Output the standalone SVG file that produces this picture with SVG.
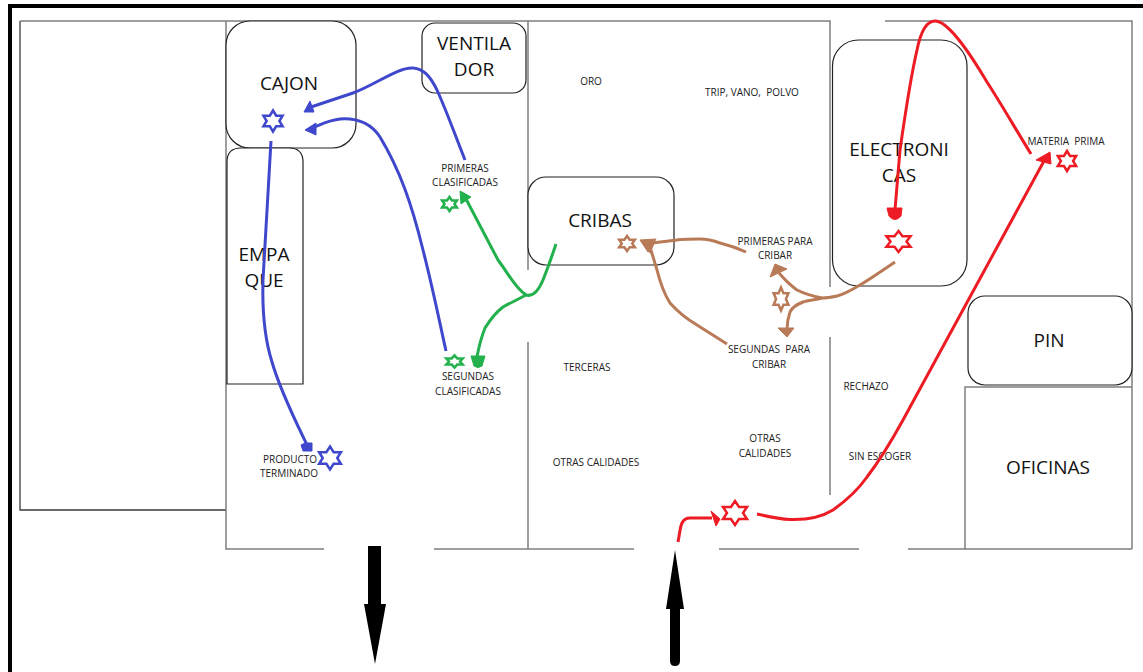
<svg xmlns="http://www.w3.org/2000/svg" width="1143" height="672" viewBox="0 0 1143 672">
<style>
text{white-space:pre}
.wall{fill:none;stroke:#7f7f7f;stroke-width:1.5}
.dark{fill:none;stroke:#3a3a3a;stroke-width:1.3}
.box{fill:#fff;stroke:#222;stroke-width:1.2}
.lg{font:19px "Open Sans","Noto Sans","Liberation Sans",sans-serif;fill:#111;text-anchor:middle}
.sm{font:10px "Open Sans","Noto Sans","Liberation Sans",sans-serif;fill:#222;text-anchor:middle}
.fl{fill:none;stroke-width:3;stroke-linecap:butt}
.st{fill:#fff;stroke-width:2.5}
.st polygon{vector-effect:non-scaling-stroke}
.blue{stroke:#3f48cc}.bluef{fill:#3f48cc;stroke:#3f48cc;stroke-width:1;stroke-linejoin:round}
.green{stroke:#22b14c}.greenf{fill:#22b14c;stroke:#22b14c;stroke-width:1;stroke-linejoin:round}
.brown{stroke:#b97a57}.brownf{fill:#b97a57;stroke:#b97a57;stroke-width:1;stroke-linejoin:round}
.red{stroke:#ed1c24}.redf{fill:#ed1c24;stroke:#ed1c24;stroke-width:1;stroke-linejoin:round}
</style>
<rect x="0" y="0" width="1143" height="672" fill="#fff"/>
<g id="frame" fill="#000"><rect x="8" y="4" width="1135" height="4"/><rect x="8" y="4" width="4" height="668"/></g>
<g id="walls">
<path class="dark" d="M226 510H20V21"/>
<path class="wall" d="M20 21H830V287M830 337V495M885 21H1132V549"/>
<path class="wall" d="M226 21V549H324M434 549H634M719 549H859M908 549H1132"/>
<path class="wall" d="M528 21V270M528 342V549"/>
<path class="wall" d="M965 549V387H1132"/>
</g>
<g id="cajon"><rect class="box" x="226" y="21" width="130" height="127" rx="24"/><text class="lg" x="289" y="90">CAJON</text></g>
<g id="ventilador"><rect class="box" x="422" y="23" width="104" height="70" rx="13"/><text class="lg" x="474" y="50">VENTILA</text><text class="lg" x="474" y="76">DOR</text></g>
<g id="empaque"><path class="box" d="M227 384V162Q227 148 241 148H289Q303 148 303 162V384Z"/><text class="lg" x="264" y="261">EMPA</text><text class="lg" x="264" y="287">QUE</text></g>
<g id="cribas"><rect class="box" x="528" y="177" width="146" height="88" rx="18"/><text class="lg" x="600" y="227">CRIBAS</text></g>
<g id="electronicas"><rect class="box" x="832.500" y="40" width="134.500" height="246" rx="26"/><text class="lg" x="899" y="156">ELECTRONI</text><text class="lg" x="899" y="182">CAS</text></g>
<g id="pin"><rect class="box" x="968" y="296" width="164" height="89" rx="17"/><text class="lg" x="1049" y="347">PIN</text></g>
<g id="oficinas"><text class="lg" x="1048" y="474">OFICINAS</text></g>
<g id="labels">
<text class="sm" x="591" y="85">ORO</text>
<text class="sm" x="752" y="96">TRIP, VANO,  POLVO</text>
<text class="sm" x="465" y="172">PRIMERAS</text><text class="sm" x="465" y="186">CLASIFICADAS</text>
<text class="sm" x="468" y="380">SEGUNDAS</text><text class="sm" x="468" y="395">CLASIFICADAS</text>
<text class="sm" x="290" y="463">PRODUCTO</text><text class="sm" x="289" y="477">TERMINADO</text>
<text class="sm" x="587" y="371">TERCERAS</text>
<text class="sm" x="596" y="466">OTRAS CALIDADES</text>
<text class="sm" x="775" y="245">PRIMERAS PARA</text><text class="sm" x="775" y="259">CRIBAR</text>
<text class="sm" x="769" y="353">SEGUNDAS  PARA</text><text class="sm" x="769" y="368">CRIBAR</text>
<text class="sm" x="765" y="442">OTRAS</text><text class="sm" x="765" y="457">CALIDADES</text>
<text class="sm" x="866" y="390">RECHAZO</text>
<text class="sm" x="880" y="460">SIN ESCOGER</text>
<text class="sm" x="1066" y="145">MATERIA  PRIMA</text>
</g>
<g id="connectors">
<path class="fl blue" d="M465 160C455 135 447 112 437 90C430 76 424 69 413 68C398 67 375 85 353 93L311 107"/><path class="bluef" d="M304 112L310 101L314 112Z"/>
<path class="fl blue" d="M446 351C437 310 432 285 423 250C412 205 400 170 380 137C370 122 355 118 340 119C330 120 322 124 314 127"/><path class="bluef" d="M305 130L316 123L316 135Z"/>
<path class="fl blue" d="M271 141L263 280C262 315 265 340 272 362C280 390 295 420 307 445"/><path class="bluef" d="M301 445L305 443H312V451H303Z"/>
<path class="fl green" d="M526 295C515 288 508 273 498 260L466 199"/><path class="greenf" d="M460 191L471 197L461 204Z"/>
<path class="fl green" d="M556 244C550 262 547 270 543 280C538 292 533 297 526 295C515 301 510 303 503 307C495 313 490 320 485 328C481 338 479 346 477 357"/><path class="greenf" d="M471 356H485L482 366Q478 369 474 366Z"/>
<path class="fl brown" d="M746 252C735 247 728 245 720 243C712 240 705 239 700 239C690 239 680 239 677 240L652 243"/><path class="brownf" d="M640 240L656 239L648 252Z"/>
<path class="fl brown" d="M727 344L697 325C685 318 678 312 670 303C663 292 660 282 657 270L650 247"/><path class="brownf" d="M641 241L655 241L650 253Z"/>
<path class="fl brown" d="M895 262C880 272 870 279 860 285C850 291 845 294 837 296C828 298 825 298 822 298C812 296 805 294 797 290C790 285 785 280 779 273"/><path class="brownf" d="M770 277L775 264L787 269Z"/>
<path class="fl brown" d="M822 298C815 300 808 300 803 302C795 305 792 308 790 312C788 318 787 323 787 329"/><path class="brownf" d="M778 328H794L787 337Z"/>
<path class="fl red" d="M1031 154C1015 128 1000 102 987 82C975 62 950 21 935 21C925 21 920 35 917 50C910 80 905 115 900 150L895 210"/><path class="redf" d="M887 208H902L901 216Q895 223 889 216Z"/>
<path class="fl red" d="M678 542C680 532 680 527 682 523C684 519 686 518 690 518L712 518"/><path class="redf" d="M720 519L711 511L716 526Z"/>
<path class="fl red" d="M757 514C770 517 778 519 790 519.500C805 520 820 518 833 510C850 498 860 487 867 477C880 460 892 440 903 420L1044 161"/><path class="redf" d="M1050 152L1051 164L1036 160Z"/>
</g>
<g id="stars" class="st">
<defs><polygon id="s" points="0,-10 2.9,-5 8.7,-5 5.8,0 8.7,5 2.9,5 0,10 -2.9,5 -8.7,5 -5.8,0 -8.7,-5 -2.9,-5"/></defs>
<use href="#s" transform="translate(273 121) scale(1.1 1.05)" class="blue"/>
<use href="#s" transform="translate(330 458) scale(1.25 1.15)" class="blue"/>
<use href="#s" transform="translate(449.500 204) scale(0.85 0.7)" class="green"/>
<use href="#s" transform="translate(454.500 361.500) scale(0.95 0.62)" class="green"/>
<use href="#s" transform="translate(627 243.500) scale(0.9 0.75)" class="brown"/>
<use href="#s" transform="translate(781 299) scale(0.85 1.15)" class="brown"/>
<use href="#s" transform="translate(898.500 241.500) scale(1.38 1.05)" class="red"/>
<use href="#s" transform="translate(1067 161) scale(1.05 1)" class="red"/>
<use href="#s" transform="translate(735 513) scale(1.38 1.2)" class="red"/>
</g>
<g id="doors" fill="#000">
<path d="M368 546H381V604H386L375 664L364 604H368Z"/>
<path d="M670 609H666L675 550L684 609H680V661Q680 666 675 666Q670 666 670 661Z"/>
</g>
</svg>
